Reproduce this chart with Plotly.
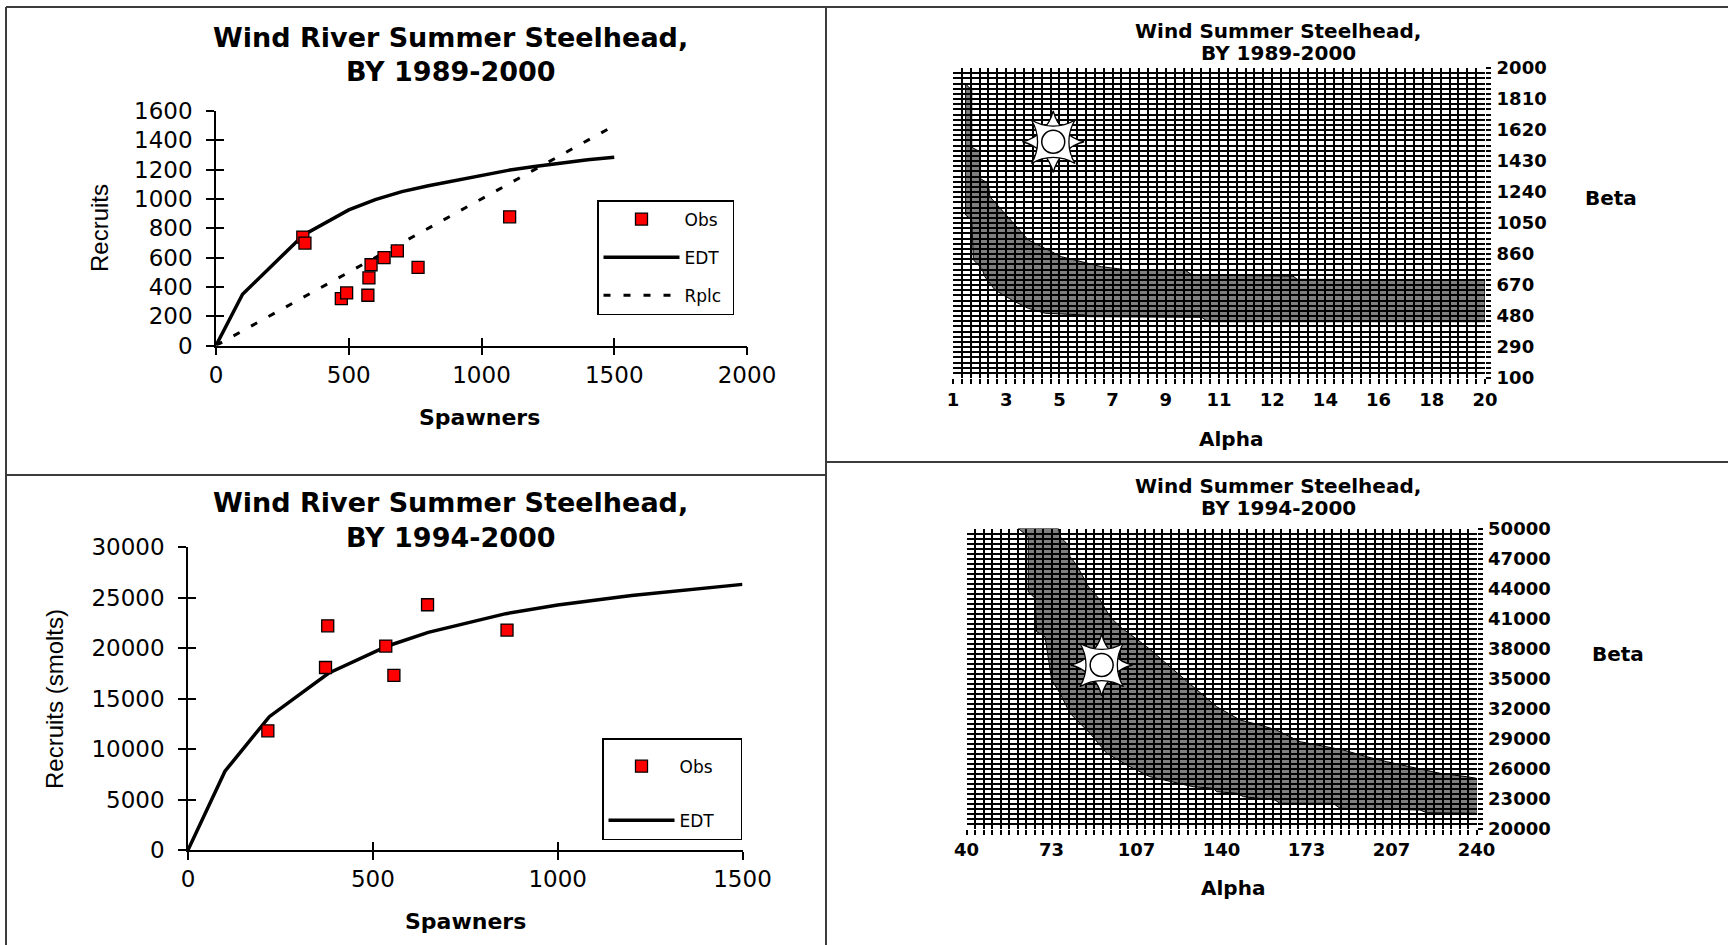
import numpy as np
import plotly.graph_objects as go

W, H = 1728, 945

# ---------------- Chart 1 : Wind River Summer Steelhead, BY 1989-2000 ----------------
OBS1_X = [327, 335, 472, 492, 572, 576, 584, 633, 683, 761, 1106]
OBS1_Y = [740, 699, 320, 359, 343, 461, 551, 599, 645, 533, 878]
EDT1_X = [0, 100, 330, 500, 600, 700, 800, 900, 1000, 1100, 1200, 1300, 1400, 1500]
EDT1_Y = [0, 350, 755, 925, 995, 1050, 1090, 1125, 1160, 1195, 1222, 1248, 1268, 1285]
RPLC1_X = [0, 1500]
RPLC1_Y = [0, 1500]
X1_TICKS = [0, 500, 1000, 1500, 2000]
Y1_TICKS = [0, 200, 400, 600, 800, 1000, 1200, 1400, 1600]

# ---------------- Chart 3 : Wind River Summer Steelhead, BY 1994-2000 ----------------
OBS3_X = [216, 372, 378, 535, 557, 648, 863]
OBS3_Y = [11800, 18070, 22200, 20190, 17280, 24280, 21770]
EDT3_X = [0, 100, 220, 380, 540, 650, 860, 1000, 1200, 1400, 1500]
EDT3_Y = [0, 7800, 13200, 17500, 20200, 21550, 23400, 24250, 25200, 25900, 26300]
X3_TICKS = [0, 500, 1000, 1500]
Y3_TICKS = [0, 5000, 10000, 15000, 20000, 25000, 30000]

# ---------------- Chart 2 : Wind Summer Steelhead, BY 1989-2000 (alpha/beta) ----------------
ALPHA2_LABELS = ["1", "3", "5", "7", "9", "11", "12", "14", "16", "18", "20"]
BETA2_LABELS = ["100", "290", "480", "670", "860", "1050", "1240", "1430", "1620", "1810", "2000"]
BAND2_UP_A = [1.45, 1.67, 1.67, 1.96, 1.96, 2.26, 2.32, 3.69, 4.88, 6.31, 7.26, 9.29, 9.54, 13.14, 13.29, 20.0]
BAND2_UP_B = [1902, 1865, 1514, 1487, 1324, 1293, 1211, 946, 843, 782, 762, 762, 731, 725, 705, 700]
BAND2_LO_A = [20.0, 10.11, 9.88, 7.50, 5.83, 5.71, 4.29, 3.69, 3.10, 2.50, 2.14, 2.03, 1.73, 1.67, 1.45]
BAND2_LO_B = [445, 445, 472, 476, 476, 486, 497, 527, 578, 639, 721, 772, 823, 1068, 1099]
SUN2_A = [4.58]
SUN2_B = [1548]

# ---------------- Chart 4 : Wind Summer Steelhead, BY 1994-2000 (alpha/beta) ----------------
ALPHA4_LABELS = ["40", "73", "107", "140", "173", "207", "240"]
BETA4_LABELS = ["20000", "23000", "26000", "29000", "32000", "35000", "38000",
                "41000", "44000", "47000", "50000"]
BAND4_UP_A = [76.0, 76.7, 79.9, 80.6, 83.2, 87.8, 92.4, 96.3, 100.2, 110.7, 128.9, 138.1,
              147.3, 155.1, 161.6, 170.8, 187.8, 196.9, 204.8, 225.7, 236.2, 240.0]
BAND4_UP_B = [50000, 49180, 48350, 47180, 46350, 44180, 42850, 41180, 40180, 38180, 34180, 32180,
              30850, 30350, 29850, 28680, 27850, 27180, 26680, 25520, 25180, 25020]
BAND4_LO_A = [240.0, 220.5, 217.8, 186.5, 183.8, 162.9, 161.0, 148.6, 146.0, 138.1, 136.8, 128.9,
              111.9, 104.1, 95.0, 88.4, 80.6, 76.7, 73.4, 70.8, 67.5, 66.9, 64.2, 64.2, 60.3]
BAND4_LO_B = [21520, 21580, 21850, 22020, 22520, 22520, 22850, 23180, 23520, 23680, 24020, 24180,
              25180, 26180, 27520, 29520, 31520, 33520, 34850, 39180, 39680, 43020, 43680, 49180, 50000]
SUN4_A = [93.0]
SUN4_B = [36350]

CELLS = 60  # grid cells per axis of the surface charts
NB = "\u00a0"


def px(xp):
    return xp / W


def py(yp):
    return 1 - yp / H


fig = go.Figure()

# ---- chart 1 traces
fig.add_trace(go.Scatter(x=RPLC1_X, y=RPLC1_Y, mode="lines", name="Rplc" + NB,
                         line=dict(color="black", width=3, dash="7px,13px"),
                         xaxis="x", yaxis="y", legend="legend", legendgroup="r1", legendrank=3))
fig.add_trace(go.Scatter(x=EDT1_X, y=EDT1_Y, mode="lines", name="EDT",
                         line=dict(color="black", width=3.5),
                         xaxis="x", yaxis="y", legend="legend", legendgroup="e1", legendrank=2))
fig.add_trace(go.Scatter(x=OBS1_X, y=OBS1_Y, mode="markers", name="Obs",
                         marker=dict(symbol="square", size=12, color="#ff0000",
                                     line=dict(color="black", width=1.3)),
                         xaxis="x", yaxis="y", legend="legend", legendgroup="o1", legendrank=1))

# ---- chart 3 traces
fig.add_trace(go.Scatter(x=EDT3_X, y=EDT3_Y, mode="lines", name="EDT" + NB * 4,
                         line=dict(color="black", width=3.5),
                         xaxis="x3", yaxis="y3", legend="legend2", legendgroup="e3", legendrank=2))
fig.add_trace(go.Scatter(x=OBS3_X, y=OBS3_Y, mode="markers", name="Obs",
                         marker=dict(symbol="square", size=12, color="#ff0000",
                                     line=dict(color="black", width=1.3)),
                         xaxis="x3", yaxis="y3", legend="legend2", legendgroup="o3", legendrank=1))

# ---- empty traces for the crossing-tick overlay axes
fig.add_trace(go.Scatter(x=[None], y=[None], xaxis="x5", yaxis="y5", showlegend=False, hoverinfo="skip"))
fig.add_trace(go.Scatter(x=[None], y=[None], xaxis="x6", yaxis="y6", showlegend=False, hoverinfo="skip"))


def add_surface(xa, ya, up_a, up_b, lo_a, lo_b, sun_a, sun_b):
    fig.add_trace(go.Scatter(x=list(up_a) + list(lo_a) + [up_a[0]],
                             y=list(up_b) + list(lo_b) + [up_b[0]],
                             mode="lines", fill="toself", fillcolor="rgba(0,0,0,0.5)",
                             line=dict(color="black", width=1), showlegend=False,
                             xaxis=xa, yaxis=ya, hoverinfo="skip"))
    for ang in (0, 45):
        fig.add_trace(go.Scatter(x=sun_a, y=sun_b, mode="markers", showlegend=False,
                                 marker=dict(symbol="star-diamond", size=44, angle=ang, color="white",
                                             line=dict(color="black", width=1.3)),
                                 xaxis=xa, yaxis=ya, hoverinfo="skip"))
    fig.add_trace(go.Scatter(x=sun_a, y=sun_b, mode="markers", showlegend=False,
                             marker=dict(symbol="circle", size=23, color="white",
                                         line=dict(color="black", width=1.5)),
                             xaxis=xa, yaxis=ya, hoverinfo="skip"))


add_surface("x2", "y2", BAND2_UP_A, BAND2_UP_B, BAND2_LO_A, BAND2_LO_B, SUN2_A, SUN2_B)
add_surface("x4", "y4", BAND4_UP_A, BAND4_UP_B, BAND4_LO_A, BAND4_LO_B, SUN4_A, SUN4_B)

# ---------------- axes ----------------
TICKFONT = dict(family="DejaVu Sans", size=23, color="black")
BOLDTICK = dict(family="DejaVu Sans", size=18, color="black", weight="bold")


def plain_axis(domain, rng, ticks, anchor, standoff):
    return dict(domain=domain, range=rng, tickvals=ticks, tickformat="d", ticks="outside",
                ticklen=8, tickwidth=1.5, tickcolor="black", showline=True, linecolor="black",
                linewidth=1.5, showgrid=False, zeroline=False, tickfont=TICKFONT, anchor=anchor,
                ticklabelstandoff=standoff, fixedrange=True, automargin=False)


def cross_axis(over, rng, ticks, anchor):
    return dict(overlaying=over, range=rng, tickvals=ticks, ticks="inside", ticklen=8,
                tickwidth=1.5, tickcolor="black", showticklabels=False, showline=False,
                showgrid=False, zeroline=False, anchor=anchor, fixedrange=True, automargin=False)


def grid_axis(domain, lo, hi, labels, anchor, side=None, standoff=0):
    vals = np.linspace(lo, hi, CELLS + 1)
    step = CELLS // (len(labels) - 1)
    text = [labels[i // step] if i % step == 0 else "" for i in range(CELLS + 1)]
    d = dict(domain=domain, range=[lo, hi], tickvals=vals, ticktext=text, ticks="outside",
             ticklen=5, tickwidth=2, tickcolor="black", showgrid=True, gridcolor="black",
             gridwidth=2, showline=False, zeroline=False, tickfont=BOLDTICK, anchor=anchor,
             ticklabelstandoff=standoff, fixedrange=True, automargin=False)
    if side:
        d["side"] = side
    return d


fig.update_layout(
    width=W, height=H, autosize=False,
    margin=dict(l=0, r=0, t=0, b=0, pad=0, autoexpand=False),
    paper_bgcolor="white", plot_bgcolor="white",
    hovermode=False,
    xaxis=plain_axis([px(216), px(747)], [0, 2000], X1_TICKS, "y", 0),
    yaxis=plain_axis([py(345.5), py(111)], [0, 1600], Y1_TICKS, "x", 9),
    xaxis5=cross_axis("x", [0, 2000], X1_TICKS, "y"),
    yaxis5=cross_axis("y", [0, 1600], Y1_TICKS, "x"),
    xaxis3=plain_axis([px(188), px(742.5)], [0, 1500], X3_TICKS, "y3", 0),
    yaxis3=plain_axis([py(850), py(547)], [0, 30000], Y3_TICKS, "x3", 9),
    xaxis6=cross_axis("x3", [0, 1500], X3_TICKS, "y3"),
    yaxis6=cross_axis("y3", [0, 30000], Y3_TICKS, "x3"),
    xaxis2=grid_axis([px(953), px(1485)], 1, 20, ALPHA2_LABELS, "y2", standoff=0),
    yaxis2=grid_axis([py(378), py(68)], 100, 2000, BETA2_LABELS, "x2", side="right", standoff=2),
    xaxis4=grid_axis([px(966.5), px(1476.5)], 40, 240, ALPHA4_LABELS, "y4", standoff=0),
    yaxis4=grid_axis([py(828.5), py(528.5)], 20000, 50000, BETA4_LABELS, "x4", side="right", standoff=2),
    legend=dict(x=px(597), y=py(200), xanchor="left", yanchor="top", bgcolor="white",
                bordercolor="black", borderwidth=1.5, traceorder="grouped", tracegroupgap=13,
                itemwidth=76, font=dict(family="DejaVu Sans", size=17, color="black")),
    legend2=dict(x=px(602), y=py(738), xanchor="left", yanchor="top", bgcolor="white",
                 bordercolor="black", borderwidth=1.5, traceorder="grouped", tracegroupgap=29,
                 itemwidth=66, font=dict(family="DejaVu Sans", size=17, color="black"),
                 title=dict(text=NB, font=dict(size=7))),
)

# ---------------- text ----------------
ann = []


def text(s, x, y, size, family="DejaVu Sans", angle=0):
    ann.append(dict(text=s, x=px(x), y=py(y), xref="paper", yref="paper", xanchor="center",
                    yanchor="middle", showarrow=False, textangle=angle,
                    font=dict(family=family, size=size, color="black")))


text("<b>Wind River Summer Steelhead,</b>", 451, 37, 27)
text("<b>BY 1989-2000</b>", 451, 72, 27)
text("<b>Spawners</b>", 479, 417.7, 22)
text("Recruits", 99, 228, 24, family="Liberation Sans", angle=-90)

text("<b>Wind River Summer Steelhead,</b>", 451, 503, 27)
text("<b>BY 1994-2000</b>", 451, 537.5, 27)
text("<b>Spawners</b>", 465, 921, 22)
text("Recruits (smolts)", 54, 699, 24, family="Liberation Sans", angle=-90)

text("<b>Wind Summer Steelhead,</b>", 1278, 31, 20)
text("<b>BY 1989-2000</b>", 1278, 53, 20)
text("<b>Alpha</b>", 1231, 438.6, 20)
text("<b>Beta</b>", 1611, 198, 20)

text("<b>Wind Summer Steelhead,</b>", 1278, 486, 20)
text("<b>BY 1994-2000</b>", 1278, 508, 20)
text("<b>Alpha</b>", 1233, 888, 20)
text("<b>Beta</b>", 1617.7, 653.5, 20)

fig.update_layout(annotations=ann)

# ---------------- panel borders ----------------
BORDER = dict(color="#3c3c3c", width=2)
shapes = []
for x0, y0, x1, y1 in [(6, 7, 1728, 7), (6, 7, 6, 945), (826, 7, 826, 945),
                       (6, 475, 826, 475), (826, 462, 1728, 462)]:
    shapes.append(dict(type="line", xref="paper", yref="paper", x0=px(x0), y0=py(y0),
                       x1=px(x1), y1=py(y1), line=BORDER, layer="above"))
fig.update_layout(shapes=shapes)

fig.write_html("out.html", config={"displayModeBar": False},
               post_script="document.body.style.margin='0';document.body.style.overflow='hidden';")
